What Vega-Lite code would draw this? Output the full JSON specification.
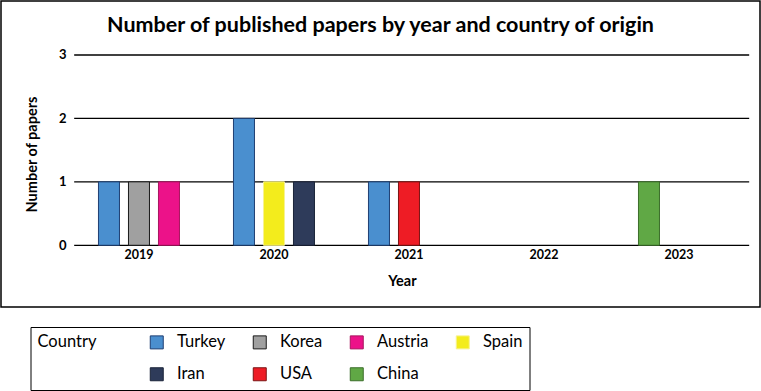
{
  "$schema": "https://vega.github.io/schema/vega-lite/v6.json",
  "autosize": {"type": "none"},
  "width": 759,
  "height": 306,
  "padding": {"left": 1, "top": 1, "right": 1, "bottom": 84},
  "background": "white",
  "config": {
    "font": "Lato",
    "view": {"stroke": "black", "strokeWidth": 1.5}
  },
  "title": {
    "text": "Number of published papers by year and country of origin",
    "fontSize": 21.5,
    "fontWeight": "bold",
    "font": "Lato",
    "color": "black",
    "anchor": "middle",
    "frame": "group",
    "offset": -35
  },
  "data": {
    "values": [
      {"Year": "2019", "Country": "Turkey", "Papers": 1, "Rank": 1},
      {"Year": "2019", "Country": "Korea", "Papers": 1, "Rank": 2},
      {"Year": "2019", "Country": "Austria", "Papers": 1, "Rank": 3},
      {"Year": "2020", "Country": "Turkey", "Papers": 2, "Rank": 1},
      {"Year": "2020", "Country": "Spain", "Papers": 1, "Rank": 2},
      {"Year": "2020", "Country": "Iran", "Papers": 1, "Rank": 3},
      {"Year": "2021", "Country": "Turkey", "Papers": 1, "Rank": 1},
      {"Year": "2021", "Country": "USA", "Papers": 1, "Rank": 2},
      {"Year": "2023", "Country": "China", "Papers": 1, "Rank": 1}
    ]
  },
  "layer": [
    {
      "data": {"values": [{"Papers": 0}, {"Papers": 1}, {"Papers": 2}, {"Papers": 3}]},
      "mark": {"type": "rule", "color": "black", "strokeWidth": 1.3},
      "encoding": {
        "x": {"datum": "2019", "type": "ordinal", "bandPosition": 0.02},
        "x2": {"datum": "2023", "bandPosition": 1.02},
        "y": {"field": "Papers", "type": "quantitative", "title": "Number of papers"}
      }
    },
    {
      "mark": {"type": "bar", "strokeWidth": 1},
      "encoding": {
        "x": {
          "field": "Year",
          "type": "ordinal",
          "scale": {
            "domain": ["2019", "2020", "2021", "2022", "2023"],
            "paddingInner": 0,
            "paddingOuter": 0.3111,
            "align": 0.839
          },
          "axis": {
            "title": "Year",
            "offset": -61.7,
            "domain": false,
            "ticks": false,
            "tickSize": 0,
            "labelAngle": 0,
            "labelAlign": "center",
            "labelPadding": 9,
            "labelFont": "Lato",
            "labelFontSize": 12.5,
            "labelFontWeight": "bold",
            "labelColor": "black",
            "titleFont": "Lato",
            "titleFontSize": 14.5,
            "titleFontWeight": "bold",
            "titleColor": "black",
            "titlePadding": 14,
            "titleX": 401,
            "titleAlign": "center"
          }
        },
        "xOffset": {
          "field": "Rank",
          "type": "ordinal",
          "scale": {"domain": [1, 2, 3], "paddingInner": 0.3, "paddingOuter": 0.9}
        },
        "y": {
          "field": "Papers",
          "type": "quantitative",
          "scale": {"domain": [-0.973, 3.851], "nice": false, "zero": false},
          "axis": {
            "title": "Number of papers",
            "offset": -73,
            "values": [0, 1, 2, 3],
            "format": "d",
            "domain": false,
            "ticks": false,
            "tickSize": 0,
            "grid": false,
            "labelPadding": 8,
            "labelFont": "Lato",
            "labelFontSize": 13,
            "labelFontWeight": "bold",
            "labelColor": "black",
            "titleFont": "Lato",
            "titleFontSize": 14.5,
            "titleFontWeight": "bold",
            "titleColor": "black",
            "titlePadding": 19
          }
        },
        "y2": {"datum": 0},
        "fill": {
          "field": "Country",
          "type": "nominal",
          "scale": {
            "domain": ["Turkey", "Korea", "Austria", "Spain", "Iran", "USA", "China"],
            "range": ["#4a8fcf", "#a0a0a0", "#ec1289", "#f3ec1c", "#2e3b5a", "#ee1c25", "#60a845"]
          },
          "legend": {
            "title": "Country",
            "orient": "none",
            "legendX": 29.5,
            "legendY": 326,
            "direction": "horizontal",
            "columns": 4,
            "titleOrient": "left",
            "titleAnchor": "start",
            "titleFont": "Lato",
            "titleFontSize": 16.5,
            "titleFontWeight": "normal",
            "titleColor": "black",
            "titlePadding": 52,
            "labelFont": "Lato",
            "labelFontSize": 16.5,
            "labelColor": "black",
            "labelOffset": 12,
            "symbolType": "square",
            "symbolSize": 169,
            "symbolStrokeWidth": 1,
            "columnPadding": 25,
            "rowPadding": 14,
            "padding": 7,
            "strokeColor": "black",
            "fillColor": "white"
          }
        },
        "stroke": {
          "field": "Country",
          "type": "nominal",
          "scale": {
            "domain": ["Turkey", "Korea", "Austria", "Spain", "Iran", "USA", "China"],
            "range": ["#1f3f73", "#1a1a1a", "#a8155f", "#f7f290", "#1a2338", "#7a1414", "#3b6e2a"]
          },
          "legend": {
            "title": "Country",
            "orient": "none",
            "legendX": 29.5,
            "legendY": 326,
            "direction": "horizontal",
            "columns": 4,
            "titleOrient": "left",
            "titleAnchor": "start",
            "titleFont": "Lato",
            "titleFontSize": 16.5,
            "titleFontWeight": "normal",
            "titleColor": "black",
            "titlePadding": 52,
            "labelFont": "Lato",
            "labelFontSize": 16.5,
            "labelColor": "black",
            "labelOffset": 12,
            "symbolType": "square",
            "symbolSize": 169,
            "symbolStrokeWidth": 1,
            "columnPadding": 25,
            "rowPadding": 14,
            "padding": 7,
            "strokeColor": "black",
            "fillColor": "white"
          }
        }
      }
    }
  ]
}
